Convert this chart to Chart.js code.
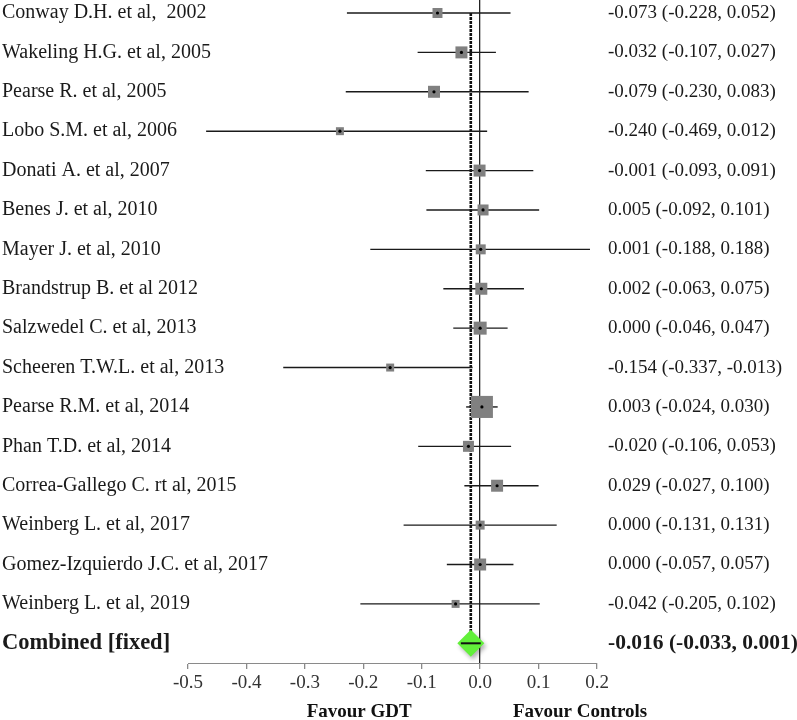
<!DOCTYPE html>
<html lang="en">
<head>
  <meta charset="UTF-8" />
  <title>Forest plot</title>
  <script src="https://cdn.jsdelivr.net/npm/chart.js"></script>
  <style>
    * { padding: 0; margin: 0; }
    html, body { background-color: #ffffff; }
    .graph { position: relative; width: 797px; height: 720px; }
  </style>
</head>
<body>
  <div class="graph">
    <canvas id="forestPlot" aria-label="Forest plot" role="img"></canvas>
  </div>

<script>
  // Study rows (top to bottom)
  const studies = [
    "Conway D.H. et al,  2002",
    "Wakeling H.G. et al, 2005",
    "Pearse R. et al, 2005",
    "Lobo S.M. et al, 2006",
    "Donati A. et al, 2007",
    "Benes J. et al, 2010",
    "Mayer J. et al, 2010",
    "Brandstrup B. et al 2012",
    "Salzwedel C. et al, 2013",
    "Scheeren T.W.L. et al, 2013",
    "Pearse R.M. et al, 2014",
    "Phan T.D. et al, 2014",
    "Correa-Gallego C. rt al, 2015",
    "Weinberg L. et al, 2017",
    "Gomez-Izquierdo J.C. et al, 2017",
    "Weinberg L. et al, 2019"
  ];
  const estimates = [-0.073, -0.032, -0.079, -0.240, -0.001, 0.005, 0.001, 0.002, 0.000, -0.154, 0.003, -0.020, 0.029, 0.000, 0.000, -0.042];
  const lower     = [-0.228, -0.107, -0.230, -0.469, -0.093, -0.092, -0.188, -0.063, -0.046, -0.337, -0.024, -0.106, -0.027, -0.131, -0.057, -0.205];
  const upper     = [0.052, 0.027, 0.083, 0.012, 0.091, 0.101, 0.188, 0.075, 0.047, -0.013, 0.030, 0.053, 0.100, 0.131, 0.057, 0.102];
  // relative weights (%)
  const weights   = [4.7, 6.8, 6.8, 3.0, 6.8, 5.7, 4.7, 6.8, 8.0, 3.0, 23, 5.7, 6.8, 3.8, 6.8, 3.0];

  const pooledLabel = "Combined [fixed]";
  const pooledEst = -0.016;
  const pooledLow = -0.033;
  const pooledHigh = 0.001;

  const xTicks = [-0.5, -0.4, -0.3, -0.2, -0.1, 0.0, 0.1, 0.2];
  const favourLeft = "Favour GDT";
  const favourRight = "Favour Controls";

  const serif = "'Liberation Serif', 'Times New Roman', serif";
  const normalFont = { family: serif, size: 19 };
  const nameFont = { family: serif, size: 20 };
  const boldNameFont = { family: serif, size: 22.5, weight: 'bold' };
  const boldFont = { family: serif, size: 21.5, weight: 'bold' };

  function fmt(v) { return v.toFixed(3); }
  const leftLabels = studies.concat([pooledLabel]);
  const rightLabels = estimates.map((e, i) => fmt(e) + " (" + fmt(lower[i]) + ", " + fmt(upper[i]) + ")")
    .concat([fmt(pooledEst) + " (" + fmt(pooledLow) + ", " + fmt(pooledHigh) + ")"]);

  const datasets = [];

  // point estimate dots
  datasets.push({
    data: estimates.map((e, i) => ({ x: e, y: i })),
    pointStyle: 'circle',
    pointRadius: 1.6,
    backgroundColor: '#000000',
    borderWidth: 0,
    order: 0
  });

  // pooled CI line on the diamond
  datasets.push({
    data: [{ x: pooledLow, y: studies.length }, { x: pooledHigh, y: studies.length }],
    showLine: true,
    borderColor: '#111111',
    borderWidth: 2,
    pointRadius: 0,
    order: 1
  });

  // pooled diamond
  datasets.push({
    id: 'diamond',
    data: [{ x: pooledEst, y: studies.length }],
    pointStyle: 'rectRot',
    pointRadius: 13.5,
    backgroundColor: '#62f03a',
    borderWidth: 0,
    order: 2
  });

  // weight squares (area ~ weight)
  datasets.push({
    data: estimates.map((e, i) => ({ x: e, y: i })),
    pointStyle: 'rect',
    pointRadius: weights.map(w => 4.6 * Math.sqrt(w) / Math.SQRT2),
    backgroundColor: '#808080',
    borderWidth: 0,
    order: 3
  });

  // confidence intervals
  studies.forEach((s, i) => {
    datasets.push({
      data: [{ x: lower[i], y: i }, { x: upper[i], y: i }],
      showLine: true,
      borderColor: '#1a1a1a',
      borderWidth: 1.4,
      pointRadius: 0,
      order: 4
    });
  });

  // pooled estimate reference (dotted)
  datasets.push({
    data: [{ x: pooledEst, y: 0 }, { x: pooledEst, y: studies.length }],
    showLine: true,
    borderColor: '#111111',
    borderWidth: 2.6,
    borderDash: [3, 1],
    pointRadius: 0,
    order: 5
  });

  const diamondShadow = {
    id: 'diamondShadow',
    beforeDatasetDraw(chart, args) {
      if (args.meta._dataset.id !== 'diamond') return;
      const ctx = chart.ctx;
      ctx.save();
      ctx.shadowColor = 'rgba(0,0,0,0.3)';
      ctx.shadowBlur = 4;
      ctx.shadowOffsetX = 2;
      ctx.shadowOffsetY = 3;
    },
    afterDatasetDraw(chart, args) {
      if (args.meta._dataset.id !== 'diamond') return;
      chart.ctx.restore();
    }
  };

  // study names on the left (the axis would clip long names) + favour captions
  const sideText = {
    id: 'sideText',
    afterDraw(chart) {
      const ctx = chart.ctx;
      const x = chart.scales.x;
      const y = chart.scales.y;
      ctx.save();
      ctx.textBaseline = 'middle';
      ctx.textAlign = 'left';
      ctx.fillStyle = '#1a1a1a';
      leftLabels.forEach((l, i) => {
        const f = i === studies.length ? boldNameFont : nameFont;
        ctx.font = (f.weight ? f.weight + ' ' : '') + f.size + 'px ' + f.family;
        ctx.fillText(l, 2, y.getPixelForValue(i));
      });
      ctx.font = "bold 19px " + serif;
      ctx.fillStyle = '#111111';
      ctx.textAlign = 'center';
      ctx.fillText(favourLeft, x.getPixelForValue(-0.207), 712);
      ctx.fillText(favourRight, x.getPixelForValue(0.171), 712);
      ctx.restore();
    }
  };

  function rowTicks(scale) {
    scale.ticks = leftLabels.map((l, i) => ({ value: i }));
  }
  function noPad(scale) {
    scale.paddingTop = 0;
    scale.paddingBottom = 0;
  }

  const forestPlot = document.getElementById('forestPlot');

  new Chart(forestPlot, {
    type: 'scatter',
    data: { datasets: datasets },
    plugins: [diamondShadow, sideText],
    options: {
      responsive: true,
      maintainAspectRatio: false,
      animation: false,
      events: [],
      layout: { autoPadding: false, padding: 0 },
      plugins: {
        legend: { display: false },
        tooltip: { enabled: false }
      },
      scales: {
        x: {
          type: 'linear',
          min: -0.5,
          max: 0.2,
          afterBuildTicks: (scale) => { scale.ticks = xTicks.map(v => ({ value: v })); },
          afterFit: (scale) => { scale.height = 57; },
          border: { display: true, color: '#8a8a8a', width: 1 },
          grid: {
            drawOnChartArea: true,
            color: (ctx) => (ctx.tick && Math.abs(ctx.tick.value) < 1e-9) ? '#222222' : 'rgba(0,0,0,0)',
            lineWidth: 1.3,
            tickColor: '#8a8a8a',
            tickLength: 6
          },
          ticks: {
            font: normalFont,
            color: '#333333',
            padding: 3,
            autoSkip: false,
            maxRotation: 0,
            callback: (v) => v.toFixed(1)
          }
        },
        y: {
          type: 'linear',
          position: 'left',
          reverse: true,
          min: -0.33,
          max: 16.5,
          afterBuildTicks: rowTicks,
          afterFit: (scale) => { scale.width = 188; noPad(scale); },
          border: { display: false },
          grid: { display: false },
          ticks: { display: false }
        },
        yRight: {
          type: 'linear',
          position: 'right',
          reverse: true,
          min: -0.33,
          max: 16.5,
          afterBuildTicks: rowTicks,
          afterFit: (scale) => { scale.width = 200; noPad(scale); },
          border: { display: false },
          grid: { display: false, drawTicks: false },
          ticks: {
            autoSkip: false,
            crossAlign: 'near',
            padding: 11,
            color: '#1a1a1a',
            font: (ctx) => ctx.index === studies.length ? boldFont : normalFont,
            callback: (v) => rightLabels[Math.round(v)]
          }
        }
      }
    }
  });
</script>
</body>
</html>
